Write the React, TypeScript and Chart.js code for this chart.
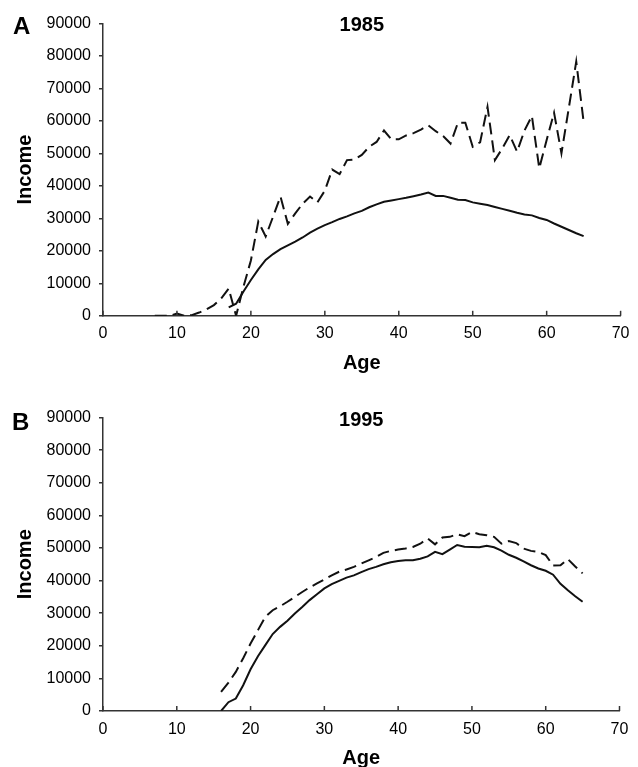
import React, { useEffect, useRef } from 'react';
import { Chart, registerables } from 'chart.js';

Chart.register(...registerables);

const FONT = '"Liberation Sans", Arial, Helvetica, sans-serif';

// ---- axis ticks ----
const AGE_TICKS = [0, 10, 20, 30, 40, 50, 60, 70];
const INCOME_TICKS = [0, 10000, 20000, 30000, 40000, 50000, 60000, 70000, 80000, 90000];

// ---- Panel A: 1985 ----
const AGES_1985_DASHED = [7, 8, 9, 10, 11, 12, 13, 14, 15, 16, 17, 18, 19, 20, 21, 22, 23, 24, 25, 26, 27, 28, 29, 30, 31, 32, 33, 34, 35, 36, 37, 38, 39, 40, 41, 42, 43, 44, 45, 46, 47, 48, 49, 50, 51, 52, 53, 54, 55, 56, 57, 58, 59, 60, 61, 62, 63, 64, 65];
const INCOME_1985_DASHED = [0, 0, 0, 700, 0, 200, 1000, 2000, 3300, 5400, 8400, 0, 9000, 17000, 29000, 24400, 30500, 36700, 28300, 31500, 34500, 36700, 34900, 38500, 45000, 43600, 47900, 48100, 49500, 52000, 53500, 57000, 54300, 54300, 55500, 56200, 57300, 58600, 56800, 55300, 53000, 59400, 59400, 52000, 53400, 64300, 47900, 51500, 55600, 50500, 57000, 61500, 45400, 54100, 62500, 50000, 64000, 78200, 59700];

const AGES_1985_SOLID = [17, 18, 19, 20, 21, 22, 23, 24, 25, 26, 27, 28, 29, 30, 31, 32, 33, 34, 35, 36, 37, 38, 39, 40, 41, 42, 43, 44, 45, 46, 47, 48, 49, 50, 51, 52, 53, 54, 55, 56, 57, 58, 59, 60, 61, 62, 63, 64, 65];
const INCOME_1985_SOLID = [2600, 3700, 7500, 11000, 14300, 17200, 19000, 20500, 21700, 22800, 24100, 25600, 26800, 27900, 28800, 29800, 30600, 31500, 32300, 33400, 34300, 35100, 35500, 35900, 36300, 36800, 37300, 37900, 36900, 36900, 36300, 35700, 35600, 34900, 34500, 34100, 33500, 32900, 32300, 31700, 31200, 30900, 30100, 29500, 28400, 27400, 26400, 25400, 24500];

// ---- Panel B: 1995 ----
const AGES_1995 = [16, 17, 18, 19, 20, 21, 22, 23, 24, 25, 26, 27, 28, 29, 30, 31, 32, 33, 34, 35, 36, 37, 38, 39, 40, 41, 42, 43, 44, 45, 46, 47, 48, 49, 50, 51, 52, 53, 54, 55, 56, 57, 58, 59, 60, 61, 62, 63, 64, 65];
const INCOME_1995_DASHED = [5900, 8700, 12000, 16200, 20700, 24800, 28900, 30900, 32100, 33500, 35000, 36500, 37900, 39100, 40300, 41600, 42700, 43400, 44200, 45200, 46200, 47200, 48500, 49100, 49500, 49800, 50300, 51300, 52900, 51100, 53200, 53400, 54200, 53600, 54900, 54200, 53900, 53400, 51300, 52100, 51500, 49800, 49100, 48800, 47800, 44600, 44700, 46600, 44300, 42200];
const INCOME_1995_SOLID = [0, 2700, 3800, 7900, 12800, 16800, 20200, 23600, 25800, 27700, 29900, 31900, 34000, 35800, 37600, 38900, 39900, 40900, 41600, 42600, 43500, 44200, 45000, 45600, 46000, 46200, 46200, 46700, 47400, 48800, 48100, 49500, 50900, 50400, 50300, 50200, 50700, 50200, 49200, 47900, 47000, 45900, 44700, 43700, 43000, 41800, 39000, 37000, 35200, 33500];

type PanelProps = {
  letter: string;
  title: string;
  dashedAges: number[];
  dashedValues: number[];
  solidAges: number[];
  solidValues: number[];
  top: number;
  height: number;
  padTop: number;
  padRight: number;
  padBottom: number;
  ageTitlePad: number;
  letterX: number;
  letterY: number;
  titleY: number;
};

const toPoints = (xs: number[], ys: number[]) => xs.map((x, i) => ({ x, y: ys[i] }));

const decorPlugin = {
  id: 'decor',
  afterDraw(chart: any, _args: any, opts: any) {
    const ctx = chart.ctx as CanvasRenderingContext2D;
    const xs = chart.scales.x;
    const area = chart.chartArea;
    ctx.save();
    ctx.strokeStyle = '#333';
    ctx.lineWidth = 1.5;
    AGE_TICKS.forEach((v) => {
      const px = xs.getPixelForValue(v);
      ctx.beginPath();
      ctx.moveTo(px, area.bottom);
      ctx.lineTo(px, area.bottom - 5);
      ctx.stroke();
    });
    ctx.fillStyle = '#000';
    ctx.textBaseline = 'alphabetic';
    ctx.textAlign = 'left';
    ctx.font = `bold 24px ${FONT}`;
    ctx.fillText(opts.letter, opts.letterX, opts.letterY);
    ctx.textAlign = 'center';
    ctx.font = `bold 20px ${FONT}`;
    ctx.fillText(opts.title, (area.left + area.right) / 2, opts.titleY);
    ctx.restore();
  },
};

function Panel(p: PanelProps) {
  const ref = useRef<HTMLCanvasElement | null>(null);
  useEffect(() => {
    if (!ref.current) return;
    const chart = new Chart(ref.current, {
      type: 'line',
      data: {
        datasets: [
          {
            data: toPoints(p.dashedAges, p.dashedValues),
            borderColor: '#111',
            borderWidth: 2,
            borderDash: [12, 6],
            pointRadius: 0,
            tension: 0,
            fill: false,
          },
          {
            data: toPoints(p.solidAges, p.solidValues),
            borderColor: '#111',
            borderWidth: 2,
            pointRadius: 0,
            tension: 0,
            fill: false,
          },
        ],
      },
      options: {
        animation: false,
        responsive: false,
        devicePixelRatio: 1,
        events: [],
        layout: { padding: { left: 0, right: p.padRight, top: p.padTop, bottom: p.padBottom } },
        plugins: {
          legend: { display: false },
          tooltip: { enabled: false },
          decor: { letter: p.letter, title: p.title, letterX: p.letterX, letterY: p.letterY, titleY: p.titleY },
        } as any,
        scales: {
          x: {
            type: 'linear',
            min: 0,
            max: 70,
            afterBuildTicks: (s: any) => {
              s.ticks = AGE_TICKS.map((v) => ({ value: v }));
            },
            afterFit: (s: any) => {
              s.height = 64;
            },
            grid: { display: false, drawTicks: false },
            border: { display: true, color: '#333', width: 1.5 },
            ticks: {
              padding: 8.5,
              color: '#000',
              font: { size: 16, family: FONT },
              maxRotation: 0,
              autoSkip: false,
              callback: (v: any) => String(v),
            },
            title: {
              display: true,
              text: 'Age',
              color: '#000',
              font: { size: 20, weight: 'bold', family: FONT },
              padding: { top: 0, bottom: p.ageTitlePad },
            },
          },
          y: {
            type: 'linear',
            min: 0,
            max: 90000,
            afterBuildTicks: (s: any) => {
              s.ticks = INCOME_TICKS.map((v) => ({ value: v }));
            },
            afterFit: (s: any) => {
              s.width = 103;
            },
            grid: { drawOnChartArea: false, drawTicks: true, tickLength: 4, color: '#333', lineWidth: 1.5 },
            border: { display: true, color: '#333', width: 1.5 },
            ticks: {
              padding: 8,
              color: '#000',
              font: { size: 16, family: FONT },
              autoSkip: false,
              callback: (v: any) => String(v),
            },
            title: {
              display: true,
              text: 'Income',
              color: '#000',
              font: { size: 20, weight: 'bold', family: FONT },
              padding: { top: 13.5, bottom: 0 },
            },
          },
        },
      },
      plugins: [decorPlugin],
    } as any);
    return () => chart.destroy();
  }, []);
  return (
    <canvas
      ref={ref}
      width={638}
      height={p.height}
      style={{ position: 'absolute', left: 0, top: p.top, width: 638, height: p.height, display: 'block' }}
    />
  );
}

export default function App() {
  return (
    <div
      style={{
        position: 'absolute',
        left: 0,
        top: 0,
        width: 638,
        height: 767,
        overflow: 'hidden',
        background: '#fff',
      }}
    >
      <Panel
        letter="A"
        title="1985"
        dashedAges={AGES_1985_DASHED}
        dashedValues={INCOME_1985_DASHED}
        solidAges={AGES_1985_SOLID}
        solidValues={INCOME_1985_SOLID}
        top={0}
        height={394}
        padTop={23.3}
        padRight={12.5}
        padBottom={14.2}
        ageTitlePad={4}
        letterX={13}
        letterY={34.3}
        titleY={31}
      />
      <Panel
        letter="B"
        title="1995"
        dashedAges={AGES_1995}
        dashedValues={INCOME_1995_DASHED}
        solidAges={AGES_1995}
        solidValues={INCOME_1995_SOLID}
        top={394}
        height={390}
        padTop={23.5}
        padRight={18.5}
        padBottom={9}
        ageTitlePad={5}
        letterX={12}
        letterY={36}
        titleY={32}
      />
    </div>
  );
}
